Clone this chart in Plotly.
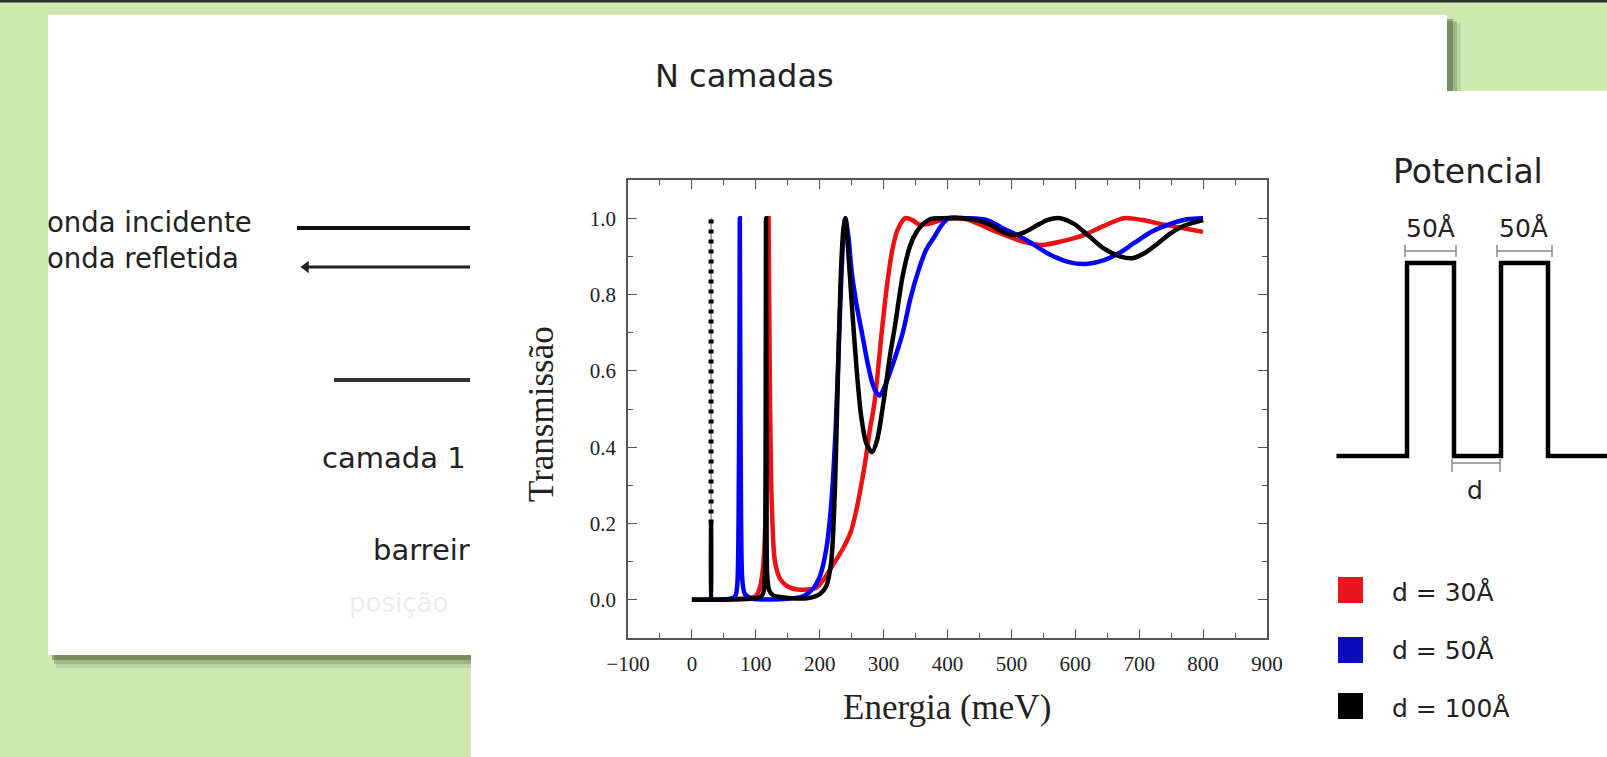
import plotly.graph_objects as go

W, H = 1607, 757
def PX(x): return x / W
def PY(y): return 1 - y / H

GREEN = "#D0E9B1"

# ---------------- data: transmission curves (energy meV, T) ----------------
red_E = [0, 90, 100, 106, 111, 115, 118, 120, 122, 125, 130, 138, 150, 165, 180, 195, 209, 220, 235, 249, 258, 266, 272, 278, 286, 297, 305, 314, 322, 334, 345, 356, 370, 390, 412, 430, 455, 475, 491, 515, 548, 580, 612, 645, 676, 705, 733, 765, 800]
red_T = [0, 0.004, 0.01, 0.03, 0.08, 0.2, 0.5, 1.0, 0.55, 0.25, 0.1, 0.055, 0.035, 0.027, 0.027, 0.032, 0.06, 0.09, 0.13, 0.18, 0.24, 0.31, 0.37, 0.44, 0.52, 0.70, 0.82, 0.92, 0.97, 1.0, 0.995, 0.983, 0.985, 0.995, 1.0, 0.997, 0.98, 0.965, 0.955, 0.94, 0.93, 0.94, 0.955, 0.98, 1.0, 0.995, 0.985, 0.975, 0.964]

blue_E = [0, 60, 68, 71, 73, 74.5, 75, 75.5, 77, 79, 83, 95, 150, 175, 190, 200, 210, 218, 225, 231, 236, 240, 245, 250, 258, 266, 275, 282, 288, 294, 302, 315, 330, 342, 354, 366, 379, 390, 402, 430, 462, 485, 510, 531, 560, 590, 616, 645, 670, 692, 720, 749, 775, 800]
blue_T = [0, 0.003, 0.01, 0.04, 0.2, 0.7, 1.0, 0.7, 0.2, 0.05, 0.015, 0.003, 0.003, 0.01, 0.03, 0.06, 0.13, 0.25, 0.45, 0.72, 0.92, 1.0, 0.95, 0.86, 0.77, 0.70, 0.62, 0.57, 0.545, 0.535, 0.56, 0.62, 0.70, 0.79, 0.86, 0.915, 0.95, 0.98, 1.0, 1.0, 0.995, 0.975, 0.955, 0.935, 0.905, 0.885, 0.88, 0.89, 0.91, 0.935, 0.965, 0.985, 0.997, 1.0]

black_E = [0, 29.8, 29.9, 30, 30.1, 30.2, 100, 108, 112, 114, 115.2, 116, 116.8, 118, 121, 127, 135, 150, 180, 200, 210, 218, 224, 228, 233, 237, 240, 244, 250, 258, 265, 273, 282, 290, 300, 310, 318, 330, 342, 352, 362, 374, 390, 420, 445, 467, 485, 503, 520, 539, 556, 576, 598, 620, 645, 670, 689, 710, 730, 749, 770, 800]
black_T = [0, 0, 0, 0.2, 0, 0, 0.004, 0.008, 0.02, 0.06, 0.3, 1.0, 0.3, 0.06, 0.025, 0.012, 0.008, 0.005, 0.004, 0.015, 0.035, 0.1, 0.3, 0.55, 0.85, 0.97, 1.0, 0.93, 0.78, 0.6, 0.48, 0.41, 0.387, 0.42, 0.52, 0.64, 0.72, 0.85, 0.93, 0.965, 0.985, 0.998, 1.0, 1.0, 0.995, 0.983, 0.965, 0.955, 0.963, 0.98, 0.995, 1.0, 0.985, 0.955, 0.92, 0.9, 0.895, 0.91, 0.935, 0.96, 0.98, 0.995]

# narrow d=100 resonance drawn as dotted segment
dot_E = [30, 30]
dot_T = [0.2, 1.0]

x_ticks = [-100, 0, 100, 200, 300, 400, 500, 600, 700, 800, 900]
y_ticks = [0.0, 0.2, 0.4, 0.6, 0.8, 1.0]

# potential profile (Angstrom, relative height)
pot_x = [-75, 0, 0, 50, 50, 100, 100, 150, 150, 260]
pot_y = [0, 0, 1, 1, 0, 0, 1, 1, 0, 0]

legend_labels = ["d = 30Å", "d = 50Å", "d = 100Å"]
legend_colors = ["#E8161E", "#0A0ABF", "#000000"]

RED, BLUE, BLACK = "#EE1111", "#0000FF", "#000000"

fig = go.Figure()

# ---------------- main transmission plot ----------------
curve = dict(shape="spline", smoothing=0.8, width=4.5)
fig.add_trace(go.Scatter(x=red_E, y=red_T, mode="lines", line=dict(color=RED, **curve), xaxis="x", yaxis="y"))
fig.add_trace(go.Scatter(x=blue_E, y=blue_T, mode="lines", line=dict(color=BLUE, **curve), xaxis="x", yaxis="y"))
fig.add_trace(go.Scatter(x=black_E, y=black_T, mode="lines", line=dict(color=BLACK, **curve), xaxis="x", yaxis="y"))
fig.add_trace(go.Scatter(x=dot_E, y=dot_T, mode="lines", line=dict(color="#555", width=1), xaxis="x", yaxis="y"))
fig.add_trace(go.Scatter(x=dot_E, y=dot_T, mode="lines", line=dict(color=BLACK, width=5, dash="4px,6px"), xaxis="x", yaxis="y"))

# ---------------- potential diagram ----------------
fig.add_trace(go.Scatter(x=pot_x, y=pot_y, mode="lines", line=dict(color="#000", width=4.5), xaxis="x2", yaxis="y2"))

# ---------------- card 1 (clipped) texts and lines ----------------
TXT = "DejaVu Sans"
fig.add_trace(go.Scatter(x=[297, 470], y=[228, 228], mode="lines", line=dict(color="#111", width=4), xaxis="x3", yaxis="y3"))
fig.add_trace(go.Scatter(x=[306, 470], y=[267, 267], mode="lines", line=dict(color="#222", width=3), xaxis="x3", yaxis="y3"))
fig.add_trace(go.Scatter(x=[306], y=[267], mode="markers", marker=dict(symbol="triangle-left", size=11, color="#222"), xaxis="x3", yaxis="y3"))
fig.add_trace(go.Scatter(x=[334, 470], y=[380, 380], mode="lines", line=dict(color="#333", width=4), xaxis="x3", yaxis="y3"))
fig.add_trace(go.Scatter(
    x=[47, 47, 322, 373, 349], y=[225, 261, 461, 553, 605], mode="text",
    text=["onda incidente", "onda refletida", "camada 1", "barreira", "posição"],
    textposition="middle right",
    textfont=dict(family=TXT, size=[27.5, 27.5, 29, 29, 26], color=["#222", "#222", "#222", "#222", "#EDEDED"]),
    xaxis="x3", yaxis="y3"))
fig.add_trace(go.Scatter(
    x=[655], y=[79], mode="text", text=["N camadas"], textposition="middle right",
    textfont=dict(family=TXT, size=32, color="#222"), xaxis="x4", yaxis="y4"))

ax_style = dict(showline=True, linecolor="#555", linewidth=1.5, mirror="ticks",
                ticks="inside", ticklen=9, tickwidth=1.3, tickcolor="#555",
                showgrid=False, zeroline=False, automargin=False,
                tickfont=dict(family="Liberation Serif", size=21, color="#222"))
hidden = dict(visible=False, automargin=False)

fig.update_layout(
    width=W, height=H, margin=dict(l=0, r=0, t=0, b=0, pad=0, autoexpand=False),
    paper_bgcolor=GREEN, plot_bgcolor="rgba(0,0,0,0)", showlegend=False,
    xaxis=dict(domain=[PX(628), PX(1267)], range=[-100, 900], tickvals=x_ticks,
               minor=dict(ticks="inside", ticklen=5, dtick=50, tickcolor="#555", tickwidth=1.2),
               ticklabelstandoff=6, anchor="y", **ax_style),
    yaxis=dict(domain=[PY(638), PY(180)], range=[-0.1, 1.1], tickvals=y_ticks, tickformat=".1f",
               minor=dict(ticks="inside", ticklen=5, dtick=0.1, tickcolor="#555", tickwidth=1.2),
               ticklabelstandoff=6, anchor="x", **ax_style),
    xaxis2=dict(domain=[PX(1300), 1], range=[(1300 - 1407) / 0.94, (1607 - 1407) / 0.94], anchor="y2", **hidden),
    yaxis2=dict(domain=[PY(552.5), PY(166.5)], range=[-0.5, 1.5], anchor="x2", **hidden),
    xaxis3=dict(domain=[PX(48), PX(470)], range=[48, 470], anchor="y3", **hidden),
    yaxis3=dict(domain=[PY(655), PY(91)], range=[655, 91], anchor="x3", **hidden),
    xaxis4=dict(domain=[PX(48), PX(1447)], range=[48, 1447], anchor="y4", **hidden),
    yaxis4=dict(domain=[PY(91), PY(15)], range=[91, 15], anchor="x4", **hidden),
)

shapes = []
def rect(x0, y0, x1, y1, color, layer="below"):
    shapes.append(dict(type="rect", xref="paper", yref="paper", x0=PX(x0), x1=PX(x1), y0=PY(y1), y1=PY(y0),
                       fillcolor=color, line=dict(width=0), layer=layer))
def seg(x0, y0, x1, y1, color="#888", width=1.5):
    shapes.append(dict(type="line", xref="paper", yref="paper", x0=PX(x0), x1=PX(x1), y0=PY(y0), y1=PY(y1),
                       line=dict(color=color, width=width), layer="above"))

rect(0, 0, W, 2.5, "#2B3326")
rect(56, 23, 1461, 668, "rgba(110,130,90,0.20)")
rect(54, 21, 1457, 664, "rgba(90,110,70,0.30)")
rect(52, 19, 1453, 660, "rgba(70,90,50,0.45)")
rect(48, 15, 1447, 655, "#FFFFFF")
rect(471, 91, W, H, "#FFFFFF")

# dimension brackets
for (a, b) in [(1405, 1456), (1497, 1552)]:
    seg(a, 251, b, 251)
    seg(a, 245, a, 257)
    seg(b, 245, b, 257)
seg(1452, 463, 1500, 463)
seg(1452, 459, 1452, 472)
seg(1500, 459, 1500, 472)

# legend squares
for yc, c in zip([590, 650, 706], legend_colors):
    rect(1338, yc - 13, 1363, yc + 13, c, layer="above")

fig.update_layout(shapes=shapes)

anns = []
def ann(text, x, y, size, family=TXT, xanchor="center", angle=0, color="#222"):
    anns.append(dict(text=text, x=PX(x), y=PY(y), xref="paper", yref="paper", showarrow=False,
                     xanchor=xanchor, yanchor="middle", textangle=angle,
                     font=dict(family=family, size=size, color=color)))

ann("Energia (meV)", 947, 707, 35, family="Liberation Serif")
ann("Transmissão", 541, 414, 35, family="Liberation Serif", angle=-90)
ann("Potencial", 1468, 172, 33)
ann("50Å", 1430, 228, 25)
ann("50Å", 1523, 228, 25)
ann("d", 1475, 490, 25)
for lab, yc in zip(legend_labels, [592, 650, 708]):
    ann(lab, 1390, yc, 25, xanchor="left")

fig.update_layout(annotations=anns)

fig.write_html("out.html")
